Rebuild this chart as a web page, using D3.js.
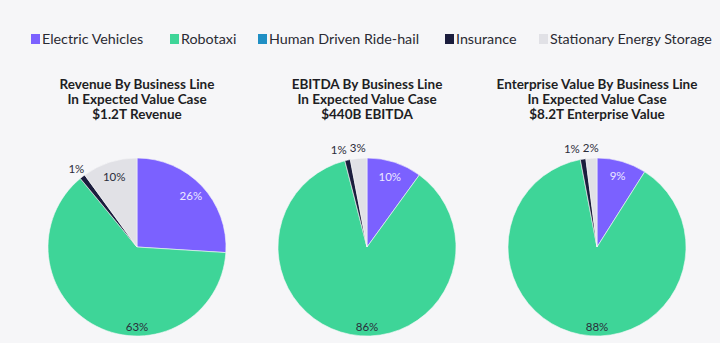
<!DOCTYPE html>
<html><head><meta charset="utf-8">
<script src="https://cdn.jsdelivr.net/npm/d3@7"></script>
<style>
html,body{margin:0;padding:0;background:#f6f6f8;}
svg{display:block;}
</style></head>
<body>
<svg id="chart" width="720" height="343"></svg>
<script>
const categories = ["Electric Vehicles","Robotaxi","Human Driven Ride-hail","Insurance","Stationary Energy Storage"];
const colors = ["#7b61ff","#3ed598","#1f8fc4","#1b1d3d","#e1e1e6"];
const titles = [
  ["Revenue By Business Line","In Expected Value Case","$1.2T Revenue"],
  ["EBITDA By Business Line","In Expected Value Case","$440B EBITDA"],
  ["Enterprise Value By Business Line","In Expected Value Case","$8.2T Enterprise Value"]
];
const revenueShare = [26,63,0,1,10];
const ebitdaShare = [10,86,0,1,3];
const evShare = [9,88,0,1,2];
const seriesValues = [revenueShare, ebitdaShare, evShare];

const svg = d3.select("#chart");
const W = 720, H = 343;
svg.append("rect").attr("width",W).attr("height",H).attr("fill","#f6f6f8");

// Legend
const legendX = [31,170,258,445,539];
const lg = svg.append("g").attr("font-family","Lato, sans-serif").attr("font-size",14.3).attr("fill","#2a2a33");
categories.forEach((c,i)=>{
  const g = lg.append("g").attr("transform",`translate(${legendX[i]},39)`);
  g.append("rect").attr("x",0).attr("y",-5).attr("width",9).attr("height",10).attr("fill",colors[i]);
  g.append("text").attr("x",11).attr("y",0).attr("dy","0.36em").text(c);
});

// Pies
const centersX = d3.scalePoint().domain([0,1,2]).range([137,597]);
const cy = 247, R = 89;
const pie = d3.pie().sort(null).value(d=>d.v);
const arc = d3.arc().innerRadius(0).outerRadius(R);

seriesValues.forEach((vals,k)=>{
  const cx = centersX(k);
  const g = svg.append("g").attr("transform",`translate(${cx},${cy})`);
  // titles
  const tg = svg.append("g").attr("font-family","Lato, sans-serif").attr("font-weight",700)
    .attr("font-size",13.5).attr("fill","#1e1e24").attr("text-anchor","middle");
  titles[k].forEach((t,j)=>{
    tg.append("text").attr("x",cx).attr("y",84+j*15).attr("dy","0.35em").text(t);
  });
  const data = vals.map((v,i)=>({v,i}));
  const arcs = pie(data);
  g.selectAll("path").data(arcs.filter(a=>a.data.v>0)).join("path")
    .attr("d",arc).attr("fill",a=>colors[a.data.i])
    .attr("stroke","#f6f6f8").attr("stroke-width",0.6);
  // labels
  const labels = [];
  arcs.filter(a=>a.data.v>0).forEach(a=>{
    let ang = (a.startAngle+a.endAngle)/2;
    let r;
    let fill = a.data.i===0 ? "#ece8ff" : "#2b2d3a";
    if (a.data.v < 5) { r = R+10; }
    else if (a.startAngle <= Math.PI && a.endAngle >= Math.PI && a.data.v>50) { ang = Math.PI; r = R-9; }
    else { r = R*0.83; }
    labels.push({x: Math.sin(ang)*r, y: -Math.cos(ang)*r, text: a.data.v+"%", fill, outside: a.data.v<5});
  });
  const texts = g.selectAll("text.lbl").data(labels).join("text").attr("class","lbl")
    .attr("font-family","Lato, sans-serif").attr("font-size",11.5).attr("text-anchor","middle")
    .attr("dy","0.35em").attr("fill",d=>d.fill).text(d=>d.text);
  texts.each(function(d){ d.w = this.getComputedTextLength(); });
  // resolve overlap among outside labels
  const outs = labels.filter(d=>d.outside).sort((a,b)=>b.x-a.x);
  for (let i=1;i<outs.length;i++){
    const right = outs[i-1], left = outs[i];
    const need = right.x - right.w/2 - 3 - left.w/2;
    if (left.x > need) left.x = need;
  }
  texts.attr("x",d=>d.x).attr("y",d=>d.y);
});
</script>
</body></html>
